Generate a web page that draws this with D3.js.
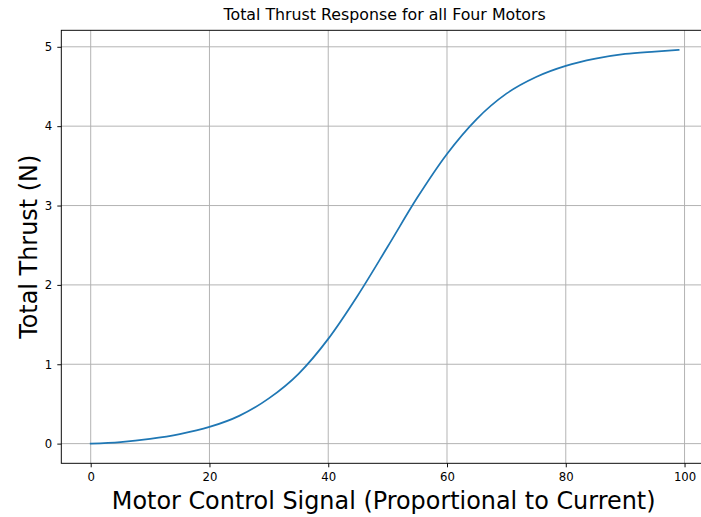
<!DOCTYPE html>
<html>
<head>
<meta charset="utf-8">
<script src="https://cdn.jsdelivr.net/npm/d3@7"></script>
<style>
    body { margin: 0; background: #fff; }
    svg { display: block; font-family: "DejaVu Sans", sans-serif; }
    .grid line { stroke: #b0b0b0; stroke-width: 0.95; }
</style>
</head>
<body>
<svg id="chart"></svg>
<script>
// motor control signal (x) and total thrust (N)
const signal = [0, 5, 10, 15, 20, 25, 30, 35, 40, 45, 50, 55, 60, 65, 70, 75, 80, 85, 90, 95, 99];
const thrust = [0.00, 0.02, 0.06, 0.12, 0.21, 0.35, 0.57, 0.88, 1.32, 1.87, 2.48, 3.10, 3.65, 4.09, 4.41, 4.62, 4.76, 4.85, 4.91, 4.94, 4.96];
const xTicks = [0, 20, 40, 60, 80, 100];
const yTicks = [0, 1, 2, 3, 4, 5];

const titleText = 'Total Thrust Response for all Four Motors';
const xLabelText = 'Motor Control Signal (Proportional to Current)';
const yLabelText = 'Total Thrust (N)';

class ThrustChart {
    constructor() {
        this.width = 701;
        this.height = 517;
        this.plot = { left: 61.3, right: 708, top: 30.3, bottom: 463.3 };
        this.points = signal.map((s, i) => ({ x: s, y: thrust[i] }));
        this.init();
    }

    init() {
        this.svg = d3.select('#chart')
            .attr('width', this.width)
            .attr('height', this.height);

        this.setupScales();
        this.drawGrid();
        this.drawLine();
        this.drawAxes();
        this.drawLabels();
    }

    setupScales() {
        // matplotlib style 5% margins round the data
        const xPad = (d3.max(signal) - d3.min(signal)) * 0.05;
        const yPad = (d3.max(thrust) - d3.min(thrust)) * 0.05;

        this.xScale = d3.scaleLinear()
            .domain([d3.min(signal) - xPad, d3.max(signal) + xPad])
            .range([this.plot.left, this.plot.right]);

        this.yScale = d3.scaleLinear()
            .domain([d3.min(thrust) - yPad, d3.max(thrust) + yPad])
            .range([this.plot.bottom, this.plot.top]);
    }

    drawGrid() {
        const g = this.svg.append('g').attr('class', 'grid');

        g.selectAll('.vx')
            .data(xTicks)
            .enter().append('line')
            .attr('x1', d => this.xScale(d))
            .attr('x2', d => this.xScale(d))
            .attr('y1', this.plot.top)
            .attr('y2', this.plot.bottom);

        g.selectAll('.hy')
            .data(yTicks)
            .enter().append('line')
            .attr('x1', this.plot.left)
            .attr('x2', this.plot.right)
            .attr('y1', d => this.yScale(d))
            .attr('y2', d => this.yScale(d));
    }

    drawLine() {
        const line = d3.line()
            .x(d => this.xScale(d.x))
            .y(d => this.yScale(d.y))
            .curve(d3.curveMonotoneX);

        this.svg.append('path')
            .datum(this.points)
            .attr('fill', 'none')
            .attr('stroke', '#1f77b4')
            .attr('stroke-width', 1.75)
            .attr('stroke-linecap', 'square')
            .attr('d', line);
    }

    drawAxes() {
        const xAxis = d3.axisBottom(this.xScale)
            .tickValues(xTicks)
            .tickFormat(d3.format('d'))
            .tickSize(4)
            .tickPadding(5)
            .tickSizeOuter(0);

        const yAxis = d3.axisLeft(this.yScale)
            .tickValues(yTicks)
            .tickFormat(d3.format('d'))
            .tickSize(4)
            .tickPadding(5)
            .tickSizeOuter(0);

        const gx = this.svg.append('g')
            .attr('transform', `translate(0,${this.plot.bottom})`)
            .call(xAxis);

        const gy = this.svg.append('g')
            .attr('transform', `translate(${this.plot.left},0)`)
            .call(yAxis);

        [gx, gy].forEach(g => {
            g.attr('font-family', null).attr('font-size', null);
            g.select('.domain').remove();
            g.selectAll('line').attr('stroke', '#000').attr('stroke-width', 0.95);
            g.selectAll('text')
                .style('font-size', '11.7px')
                .style('fill', '#000');
        });

        // frame around the plot area
        this.svg.append('rect')
            .attr('x', this.plot.left)
            .attr('y', this.plot.top)
            .attr('width', this.plot.right - this.plot.left)
            .attr('height', this.plot.bottom - this.plot.top)
            .attr('fill', 'none')
            .attr('stroke', '#000')
            .attr('stroke-width', 0.95);
    }

    drawLabels() {
        const cx = (this.plot.left + this.plot.right) / 2;
        const cy = (this.plot.top + this.plot.bottom) / 2;

        this.svg.append('text')
            .attr('x', cx)
            .attr('y', 19.5)
            .attr('text-anchor', 'middle')
            .style('font-size', '15.8px')
            .text(titleText);

        this.svg.append('text')
            .attr('x', cx - 1)
            .attr('y', 509)
            .attr('text-anchor', 'middle')
            .style('font-size', '23.9px')
            .text(xLabelText);

        this.svg.append('text')
            .attr('transform', `translate(36.5,${cy}) rotate(-90)`)
            .attr('text-anchor', 'middle')
            .style('font-size', '23.9px')
            .text(yLabelText);
    }
}

document.addEventListener('DOMContentLoaded', () => {
    new ThrustChart();
});
</script>
</body>
</html>
